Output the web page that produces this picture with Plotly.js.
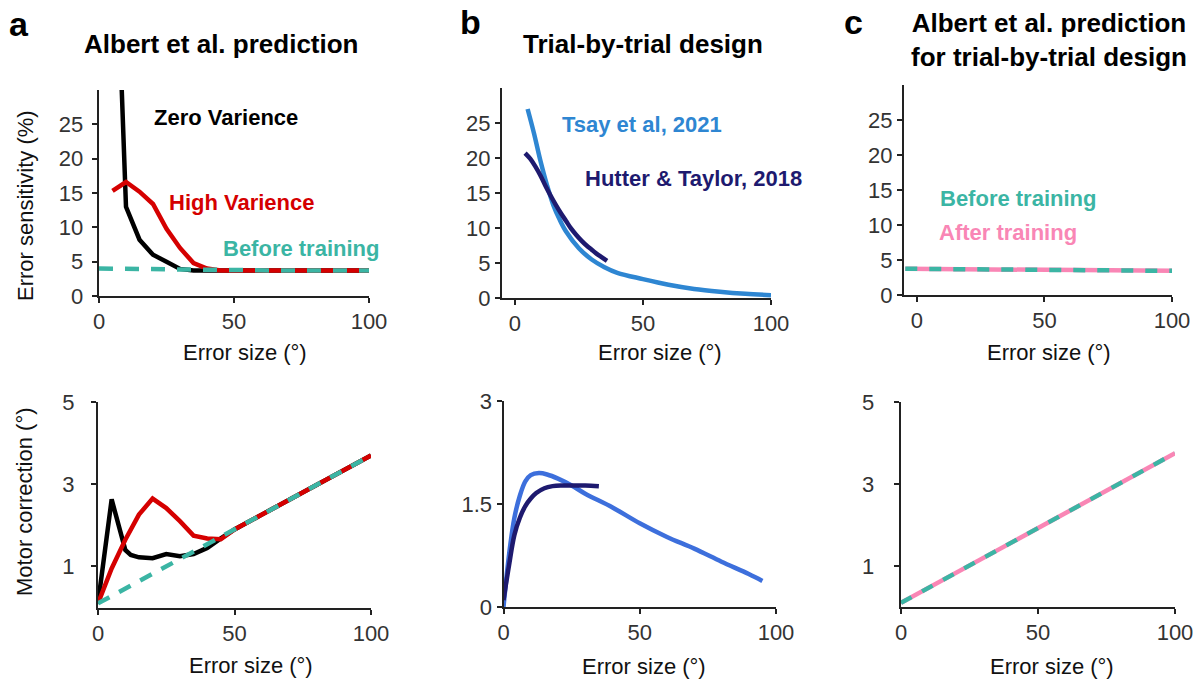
<!DOCTYPE html>
<html>
<head>
<meta charset="utf-8">
<script src="https://cdn.plot.ly/plotly-3.0.1.min.js"></script>
<style>html,body{margin:0;padding:0;background:#fff;}#chart{width:1199px;height:680px;}</style>
</head>
<body>
<div id="chart"></div>
<script>
// ---------- DATA ----------
// Panel a (top): error sensitivity (%)
const aTopZeroX = [7.5, 10, 15, 20, 25, 30, 35, 40, 50, 60, 70, 80, 90, 100];
const aTopZeroY = [40, 13, 8.2, 6.0, 5.0, 3.95, 3.7, 3.7, 3.7, 3.7, 3.7, 3.7, 3.7, 3.7];
const aTopHighX = [5, 10, 15, 20, 25, 30, 35, 40, 45, 50, 60, 70, 80, 90, 100];
const aTopHighY = [15.3, 16.6, 15.2, 13.4, 9.8, 7.0, 4.8, 4.0, 3.7, 3.7, 3.7, 3.7, 3.7, 3.7, 3.7];
const aTopBeforeX = [0, 10, 20, 30, 40, 50, 60, 70, 80, 90, 100];
const aTopBeforeY = [4.0, 3.95, 3.9, 3.75, 3.7, 3.7, 3.7, 3.7, 3.7, 3.7, 3.7];
// Panel a (bottom): motor correction (deg)
const aBotZeroX = [0, 5, 10, 12, 15, 20, 25, 30, 35, 40, 45, 50, 60, 70, 80, 90, 100];
const aBotZeroY = [0.1, 2.63, 1.4, 1.28, 1.22, 1.2, 1.3, 1.25, 1.3, 1.45, 1.68, 1.9, 2.26, 2.62, 2.98, 3.34, 3.7];
const aBotHighX = [0, 5, 10, 15, 20, 25, 30, 35, 40, 45, 50, 60, 70, 80, 90, 100];
const aBotHighY = [0.1, 0.95, 1.65, 2.26, 2.65, 2.42, 2.1, 1.75, 1.68, 1.66, 1.9, 2.26, 2.62, 2.98, 3.34, 3.7];
const aBotBeforeX = [0, 100];
const aBotBeforeY = [0.1, 3.7];
// Panel b (top): error sensitivity
const bTopTsayX = [5, 7.5, 10, 12.5, 15, 17.5, 20, 25, 30, 35, 40, 50, 60, 70, 80, 90, 100];
const bTopTsayY = [27, 23.5, 19.6, 16.2, 13.3, 11.2, 9.5, 7.1, 5.5, 4.4, 3.6, 2.7, 1.9, 1.3, 0.9, 0.6, 0.4];
const bTopHutterX = [4, 6, 8, 10, 12, 14, 16, 18, 20, 22, 24, 26, 28, 30, 32, 34, 36];
const bTopHutterY = [20.7, 19.9, 18.8, 17.5, 16.0, 14.6, 13.3, 12.1, 11.0, 9.9, 9.0, 8.2, 7.5, 6.9, 6.3, 5.8, 5.3];
// Panel b (bottom): motor correction
const bBotTsayX = [0, 2, 4, 6, 8, 10, 13, 16, 20, 25, 30, 40, 50, 60, 70, 80, 90, 95];
const bBotTsayY = [0, 0.75, 1.3, 1.62, 1.83, 1.92, 1.95, 1.93, 1.87, 1.77, 1.65, 1.45, 1.22, 1.02, 0.85, 0.66, 0.48, 0.38];
const bBotHutterX = [0, 2, 4, 6, 8, 10, 12, 15, 18, 21, 25, 30, 35];
const bBotHutterY = [0.1, 0.6, 1.05, 1.3, 1.47, 1.58, 1.66, 1.73, 1.76, 1.77, 1.77, 1.77, 1.76];
// Panel c
const cTopX = [-4.5, 100];
const cTopBeforeY = [3.75, 3.45];
const cTopAfterY = [3.75, 3.45];
const cBotX = [0, 100];
const cBotBeforeY = [0.1, 3.75];
const cBotAfterY = [0.1, 3.75];
// Ticks
const xTicks = [0, 50, 100];
const sensTicks = [0, 5, 10, 15, 20, 25];
const sensLabels = ['0', '5', '10', '15', '20', '25'];
const motorTicks = [1, 3, 5];
const motorLabels = ['1', '3', '5'];
const bMotorTicks = [0, 1.5, 3];
const bMotorLabels = ['0', '1.5', '3'];

// ---------- STYLE ----------
const W = 1199, H = 680;
const TEAL = '#3bb5a4', RED = '#d50000', PINK = '#f986b5', TSAY = '#2e86d2', TSAY2 = '#3d6fdc', NAVY = '#1e1a6f';
const FONT = 'Liberation Sans, Arial, Helvetica, sans-serif';
const dx = (l, r) => [l / W, r / W];
const dy = (t, b) => [1 - b / H, 1 - t / H];
const px = v => v / W;
const py = v => 1 - v / H;
const pad = (labels, sp) => labels.map(s => s + sp); // extra gap between label and axis

function axBase(extra) {
  return Object.assign({
    showgrid: false, zeroline: false, showline: true, linecolor: '#222', linewidth: 2,
    ticks: 'outside', ticklen: 5, tickwidth: 2, tickcolor: '#222',
    tickfont: {family: FONT, size: 22, color: '#333'}, fixedrange: true
  }, extra);
}

function ln(x, y, color, xa, ya, dash, shape) {
  return {x: x, y: y, type: 'scatter', mode: 'lines', xaxis: xa, yaxis: ya, hoverinfo: 'skip',
    line: {color: color, width: 4.5, dash: dash || 'solid', shape: shape || 'linear', smoothing: 1},
    showlegend: false};
}

const traces = [
  ln(aTopZeroX, aTopZeroY, '#000', 'x', 'y'),
  ln(aTopHighX, aTopHighY, RED, 'x', 'y'),
  ln(aTopBeforeX, aTopBeforeY, TEAL, 'x', 'y', '14px,12px'),
  ln(aBotZeroX, aBotZeroY, '#000', 'x4', 'y4'),
  ln(aBotHighX, aBotHighY, RED, 'x4', 'y4'),
  ln(aBotBeforeX, aBotBeforeY, TEAL, 'x4', 'y4', '13px,11px'),
  ln(bTopTsayX, bTopTsayY, TSAY, 'x2', 'y2', null, 'spline'),
  ln(bTopHutterX, bTopHutterY, NAVY, 'x2', 'y2', null, 'spline'),
  ln(bBotTsayX, bBotTsayY, TSAY2, 'x5', 'y5', null, 'spline'),
  ln(bBotHutterX, bBotHutterY, NAVY, 'x5', 'y5', null, 'spline'),
  ln(cTopX, cTopAfterY, PINK, 'x3', 'y3'),
  ln(cTopX, cTopBeforeY, TEAL, 'x3', 'y3', '12px,12px'),
  ln(cBotX, cBotAfterY, PINK, 'x6', 'y6'),
  ln(cBotX, cBotBeforeY, TEAL, 'x6', 'y6', '12px,12px')
];

function ann(text, x, y, size, color, opts) {
  return Object.assign({text: text, x: px(x), y: py(y), xref: 'paper', yref: 'paper',
    showarrow: false, xanchor: 'center', yanchor: 'middle',
    font: {family: FONT, size: size, color: color}}, opts || {});
}

const annotations = [
  ann('<b>a</b>', 19, 24, 34, '#000'),
  ann('<b>b</b>', 470, 22, 34, '#000'),
  ann('<b>c</b>', 853, 22, 34, '#000'),
  ann('<b>Albert et al. prediction</b>', 221, 44, 26, '#000'),
  ann('<b>Trial-by-trial design</b>', 643, 44, 26, '#000'),
  ann('<b>Albert et al. prediction<br>for trial-by-trial design</b>', 1049, 40, 26, '#000'),
  ann('<b>Zero Varience</b>', 226, 117, 22, '#000'),
  ann('<b>High Varience</b>', 242, 202, 22, RED),
  ann('<b>Before training</b>', 301, 248, 22, TEAL),
  ann('<b>Tsay et al, 2021</b>', 642, 124, 22, TSAY),
  ann('<b>Hutter &amp; Taylor, 2018</b>', 583, 179, 22, NAVY, {xanchor: 'left'}),
  ann('<b>Before training</b>', 938, 198, 22, TEAL, {xanchor: 'left'}),
  ann('<b>After training</b>', 937, 232, 22, PINK, {xanchor: 'left'}),
  ann('Error size (°)', 245, 352, 22, '#111'),
  ann('Error size (°)', 660, 352, 22, '#111'),
  ann('Error size (°)', 1049, 352, 22, '#111'),
  ann('Error size (°)', 251, 665, 22, '#111'),
  ann('Error size (°)', 644, 666, 22, '#111'),
  ann('Error size (°)', 1052, 666, 22, '#111'),
  ann('Error sensitivity (%)', 25, 206, 22, '#111', {textangle: -90}),
  ann('Motor correction (°)', 24, 502, 22, '#111', {textangle: -90})
];

const layout = {
  width: W, height: H, margin: {l: 0, r: 0, t: 0, b: 0},
  paper_bgcolor: '#fff', plot_bgcolor: 'rgba(0,0,0,0)', showlegend: false,
  font: {family: FONT},
  // panel a top
  xaxis: axBase({domain: dx(99, 369), range: [0, 100], tickvals: xTicks, anchor: 'y'}),
  yaxis: axBase({domain: dy(90, 296), range: [0, 30], tickvals: sensTicks, ticktext: pad(sensLabels, '\u2009'), anchor: 'x'}),
  // panel b top
  xaxis2: axBase({domain: dx(502, 771), range: [-5, 100], tickvals: xTicks, anchor: 'y2'}),
  yaxis2: axBase({domain: dy(88, 298), range: [0, 30], tickvals: sensTicks, ticktext: sensLabels, anchor: 'x2'}),
  // panel c top
  xaxis3: axBase({domain: dx(904, 1172), range: [-5, 100], tickvals: xTicks, anchor: 'y3'}),
  yaxis3: axBase({domain: dy(85, 295), range: [0, 30], tickvals: sensTicks, ticktext: sensLabels, anchor: 'x3'}),
  // panel a bottom
  xaxis4: axBase({domain: dx(98, 371), range: [0, 100], tickvals: xTicks, anchor: 'y4'}),
  yaxis4: axBase({domain: dy(402, 607.5), range: [0, 5], tickvals: motorTicks, ticktext: pad(motorLabels, '\u00a0\u00a0'), anchor: 'x4'}),
  // panel b bottom
  xaxis5: axBase({domain: dx(503.5, 776), range: [0, 100], tickvals: xTicks, anchor: 'y5'}),
  yaxis5: axBase({domain: dy(401, 607), range: [0, 3], tickvals: bMotorTicks, ticktext: bMotorLabels, anchor: 'x5'}),
  // panel c bottom
  xaxis6: axBase({domain: dx(901, 1175), range: [0, 100], tickvals: xTicks, anchor: 'y6'}),
  yaxis6: axBase({domain: dy(402, 607), range: [0, 5], tickvals: motorTicks, ticktext: pad(motorLabels, '\u2002\u2009'), anchor: 'x6'}),
  annotations: annotations
};

Plotly.newPlot('chart', traces, layout, {displayModeBar: false, staticPlot: true});
</script>
</body>
</html>
